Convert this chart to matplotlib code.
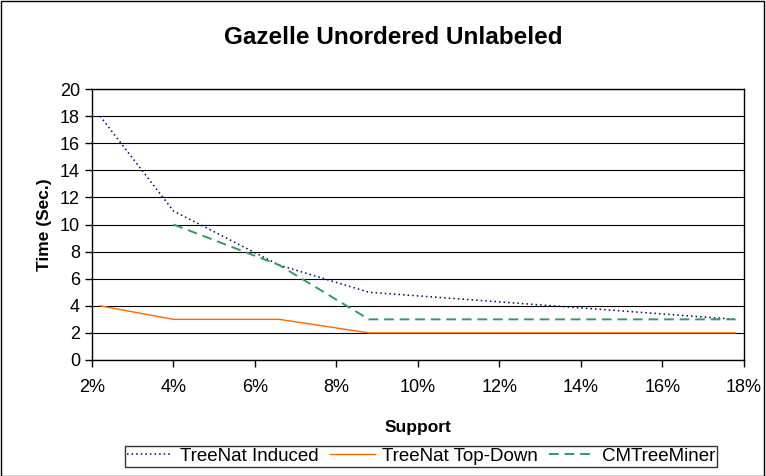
import matplotlib.pyplot as plt
from matplotlib.patches import Rectangle
from matplotlib.ticker import FuncFormatter

plt.rcParams["font.family"] = ["Liberation Sans", "DejaVu Sans"]

support = [2.2, 4.0, 6.6, 8.8, 17.8]
induced = [18, 11, 7, 5, 3]
top_down = [4, 3, 3, 2, 2]
cm_support = [4.0, 6.6, 8.8, 17.8]
cm_miner = [10, 7, 3, 3]

fig = plt.figure(figsize=(7.66, 4.76), dpi=100)
ax = fig.add_axes([0.120, 0.2437, 0.851, 0.5693])

ax.plot(support, induced, color="#000080", linestyle=(0, (1, 2)), lw=1.1,
        label="TreeNat Induced")
ax.plot(support, top_down, color="#FF6600", linestyle="-", lw=1.0,
        label="TreeNat Top-Down")
ax.plot(cm_support, cm_miner, color="#339966", linestyle=(0, (5, 3)), lw=1.4,
        label="CMTreeMiner")

ax.set_xlim(2, 18)
ax.set_ylim(0, 20)
ax.set_xticks(range(2, 19, 2))
ax.set_yticks(range(0, 21, 2))
ax.xaxis.set_major_formatter(FuncFormatter(lambda v, p: f"{v:.0f}%"))
ax.yaxis.grid(True, color="black", lw=0.8)
ax.set_axisbelow(True)
ax.tick_params(labelsize=13, direction="out", length=5, width=1, colors="black")
ax.tick_params(axis="x", pad=9)
for s in ax.spines.values():
    s.set_color("black")
    s.set_linewidth(1)

ax.set_xlabel("Support", fontsize=12.5, fontweight="bold", labelpad=17)
ax.set_ylabel("Time (Sec.)", fontsize=12.5, fontweight="bold", labelpad=6)
fig.text(0.513, 0.921, "Gazelle Unordered Unlabeled", ha="center", va="center",
         fontsize=17.5, fontweight="bold")

leg = fig.legend(loc="lower center", bbox_to_anchor=(0.55, 0.0), ncol=3,
                 fontsize=13.5, frameon=True, fancybox=False, borderpad=0.1,
                 handlelength=2.4, handletextpad=0.4, columnspacing=0.6,
                 edgecolor="black")
leg.get_frame().set_linewidth(1)

fig.patches.append(Rectangle((0.001, 0.001), 0.997, 0.997, transform=fig.transFigure,
                             fill=False, edgecolor="black", lw=1))

fig.savefig("out.png", dpi=100)
